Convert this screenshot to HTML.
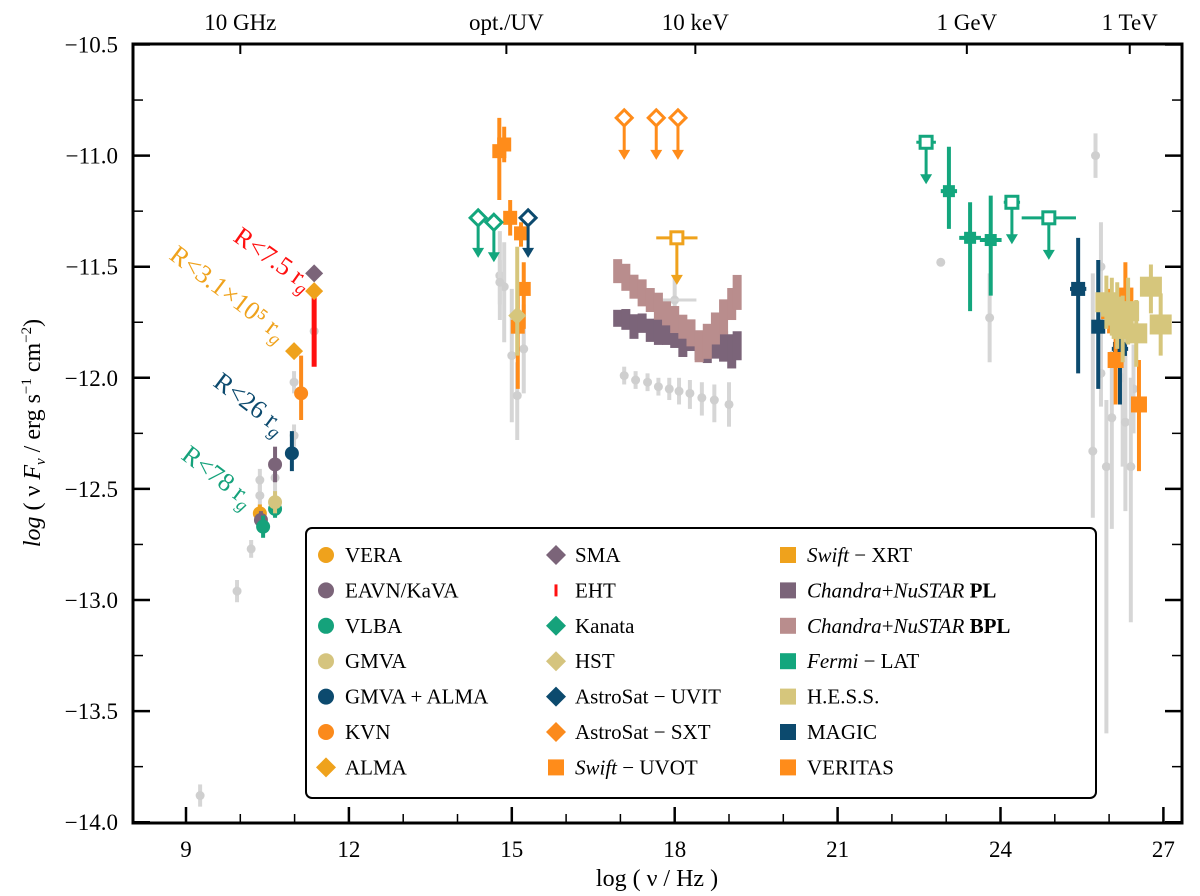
<!DOCTYPE html>
<html><head><meta charset="utf-8"><style>
body{margin:0;background:#fff;}
svg{display:block;font-family:"Liberation Serif",serif;}
</style></head><body>
<svg id="c" width="1200" height="896"></svg>
<script>
const xTicks=[9,12,15,18,21,24,27];
const yTicks=[-10.5,-11.0,-11.5,-12.0,-12.5,-13.0,-13.5,-14.0];
const topLabels=[["10 GHz",10],["opt./UV",14.9],["10 keV",18.38],["1 GeV",23.38],["1 TeV",26.38]];
// series: [x, y, errLo, errHi, xerr]
const vera=[[10.36,-12.61,0.04,0.04,0]];
const eavn=[[10.64,-12.39,0.08,0.08,0],[10.38,-12.64,0.04,0.04,0]];
const vlba=[[10.64,-12.59,0.04,0.04,0],[10.42,-12.67,0.05,0.05,0]];
const gmva=[[10.64,-12.56,0.05,0.05,0]];
const gmvaAlma=[[10.95,-12.34,0.08,0.1,0]];
const kvn=[[11.12,-12.07,0.12,0.17,0]];
const alma=[[11.36,-11.61,0,0,0],[10.99,-11.88,0,0,0]];
const sma=[[11.36,-11.53,0,0,0]];
const eht=[[11.36,-11.63,-11.95]];
const kanata=[[14.38,-11.28],[14.67,-11.30]];
const hst=[[15.1,-11.72,0.18,0.31,0]];
const uvit=[[15.3,-11.28]];
const sxt=[[17.07,-10.83],[17.66,-10.83],[18.06,-10.83]];
const uvot=[[14.77,-10.98,0.22,0.15,0.08],[14.86,-10.95,0.08,0.08,0.08],[14.97,-11.28,0.08,0.08,0.08],[15.17,-11.35,0.06,0.05,0.08],[15.22,-11.6,0.18,0.12,0.08],[15.11,-11.77,0.28,0.16,0.08]];
const xrt=[[18.04,-11.37,0.38,0]];
const plX=[16.95,17.1,17.25,17.4,17.55,17.7,17.85,18.0,18.15,18.3,18.45,18.6,18.75,18.9,19.05,19.15];
const plY=[-11.73,-11.74,-11.75,-11.76,-11.77,-11.78,-11.79,-11.80,-11.81,-11.82,-11.83,-11.84,-11.83,-11.84,-11.84,-11.84];
const bplX=[16.95,17.1,17.25,17.4,17.55,17.7,17.85,18.0,18.15,18.3,18.45,18.6,18.75,18.9,19.05,19.15];
const bplY=[-11.52,-11.55,-11.59,-11.62,-11.65,-11.68,-11.71,-11.74,-11.77,-11.80,-11.84,-11.82,-11.76,-11.71,-11.65,-11.60];
const fermiUL=[[22.63,-10.94,0.18],[24.21,-11.21,0.15],[24.89,-11.28,0.5]];
const fermi=[[23.05,-11.16,0.17,0.2,0.15],[23.44,-11.37,0.33,0.16,0.2],[23.82,-11.38,0.25,0.2,0.2]];
const hess=[[25.95,-11.66,0.12,0.12,0.12],[26.15,-11.72,0.15,0.15,0.12],[26.35,-11.70,0.15,0.15,0.12],[26.5,-11.80,0.15,0.15,0.12],[26.77,-11.59,0.12,0.1,0.12],[26.95,-11.76,0.14,0.14,0.12],[26.25,-11.78,0.15,0.15,0.12],[26.05,-11.68,0.13,0.13,0.1]];
const magic=[[25.43,-11.60,0.38,0.23,0.15],[25.8,-11.77,0.28,0.3,0.12],[26.2,-11.87,0.25,0.12,0.15]];
const veritas=[[26.3,-11.63,0.18,0.15,0.08],[26.12,-11.92,0.2,0.15,0.08],[26.55,-12.12,0.3,0.2,0.08],[26.0,-11.70,0.1,0.1,0.06]];
const grayPts=[[9.26,-13.88,0.05,0.05],[9.94,-12.96,0.05,0.05],[10.2,-12.77,0.04,0.04],[10.36,-12.53,0.05,0.05],[10.36,-12.46,0.05,0.05],[10.64,-12.45,0.1,0.05],[10.99,-12.26,0.05,0.05],[10.99,-12.02,0.05,0.05],[11.36,-11.79,0.05,0.05],[14.78,-11.54,0.2,0.2],[14.86,-11.59,0.25,0.2],[14.78,-11.57,0.1,0.1],[15.0,-11.9,0.3,0.3],[15.1,-12.08,0.2,0.15],[15.22,-11.87,0.2,0.2],[17.07,-11.99,0.04,0.04],[17.28,-12.01,0.04,0.04],[17.5,-12.02,0.04,0.04],[17.7,-12.04,0.04,0.04],[17.9,-12.05,0.05,0.05],[18.08,-12.06,0.06,0.06],[18.28,-12.07,0.07,0.06],[18.5,-12.09,0.08,0.07],[18.73,-12.1,0.1,0.07],[19.0,-12.12,0.1,0.1],[18.0,-11.65,0.1,0.1],[22.9,-11.48,0,0],[23.8,-11.73,0.2,0.2],[25.75,-11.0,0.1,0.1],[25.85,-11.98,0.15,0.3],[25.95,-12.4,1.2,0.3],[26.05,-12.18,0.5,0.3],[26.25,-12.0,0.4,0.3],[26.3,-12.2,0.4,0.4],[26.45,-12.05,0.2,0.2],[26.4,-12.4,0.7,0.4],[25.7,-12.33,0.3,0.8],[25.85,-11.5,0.2,0.2]];

const svg=document.getElementById('c');
const NS='http://www.w3.org/2000/svg';
const L=133,R=1182,T=44,B=823;
const X=v=>186+(v-9)*54.3;
const Y=v=>44.5+(-10.5-v)*222.2;
function el(tag,attrs,parent){const e=document.createElementNS(NS,tag);for(const k in attrs)e.setAttribute(k,attrs[k]);(parent||svg).appendChild(e);return e;}
function txt(s,x,y,attrs,name){const t=el('text',Object.assign({x:x,y:y},attrs));t.textContent=s;


return t;}
const C={vera:'#efa21c',eavn:'#7b6479',vlba:'#15a27b',gmva:'#d5c47e',navy:'#0c4a6e',kvn:'#fb8a1c',alma:'#efa21c',eht:'#ff1010',uvot:'#ff8c1a',xrt:'#efa21c',pl:'#7b6479',bpl:'#b98d8d',fermi:'#13a67d',hess:'#d6c67c',gray:'#d6d6d6'};

const gData=el('g',{});



function errbar(g,x,y,lo,hi,xe,col,w){
  if(lo||hi)el('line',{x1:X(x),x2:X(x),y1:Y(y-lo),y2:Y(y+hi),stroke:col,'stroke-width':w},g);
  if(xe)el('line',{x1:X(x-xe),x2:X(x+xe),y1:Y(y),y2:Y(y),stroke:col,'stroke-width':w},g);
}
function circle(g,p,col,r){errbar(g,p[0],p[1],p[2],p[3],p[4],col,4);el('circle',{cx:X(p[0]),cy:Y(p[1]),r:r,fill:col},g);}
function diamond(g,x,y,col,s,fill){const cx=X(x),cy=Y(y);el('polygon',{points:`${cx},${cy-s} ${cx+s},${cy} ${cx},${cy+s} ${cx-s},${cy}`,fill:fill?col:'#fff',stroke:col,'stroke-width':fill?0:3},g);}
function square(g,x,y,col,s,fill){el('rect',{x:X(x)-s,y:Y(y)-s,width:2*s,height:2*s,fill:fill?col:'#fff',stroke:col,'stroke-width':fill?0:3},g);}
function arrowDown(g,x,y0,len,col){const cx=X(x),cy=Y(y0);el('line',{x1:cx,x2:cx,y1:cy,y2:cy+len-8,stroke:col,'stroke-width':3},g);el('polygon',{points:`${cx-6},${cy+len-10} ${cx+6},${cy+len-10} ${cx},${cy+len}`,fill:col},g);}
function group(name){const g=el('g',{},gData);return g;}

let g=group('archival-points');
grayPts.forEach(p=>{errbar(g,p[0],p[1],p[2],p[3],0,C.gray,4);el('circle',{cx:X(p[0]),cy:Y(p[1]),r:4.5,fill:'#cfcfcf'},g);});
el('line',{x1:X(17.6),x2:X(18.4),y1:Y(-11.65),y2:Y(-11.65),stroke:C.gray,'stroke-width':3},g);

g=group('chandra-nustar-pl-band');
plX.forEach((x,i)=>{el('rect',{x:X(x)-4.5,y:Y(plY[i])-8-(i%2)*3,width:9,height:17+(i%3)*3+i*0.8,fill:C.pl},g);});
g=group('chandra-nustar-bpl-band');
bplX.forEach((x,i)=>{el('rect',{x:X(x)-4.5,y:Y(bplY[i])-12-(i%2)*2,width:9,height:24+(i>9?8:0)+(i%2)*3,fill:C.bpl},g);});

g=group('vera-points');vera.forEach(p=>circle(g,p,C.vera,7));
g=group('eavn-points');eavn.forEach(p=>circle(g,p,C.eavn,7));
g=group('vlba-points');vlba.forEach(p=>circle(g,p,C.vlba,7));
g=group('gmva-points');gmva.forEach(p=>circle(g,p,C.gmva,7));
g=group('gmva-alma-points');gmvaAlma.forEach(p=>circle(g,p,C.navy,7));
g=group('kvn-points');kvn.forEach(p=>circle(g,p,C.kvn,7));
g=group('eht-bar');eht.forEach(p=>el('line',{x1:X(p[0]),x2:X(p[0]),y1:Y(p[1]),y2:Y(p[2]),stroke:C.eht,'stroke-width':5},g));
g=group('sma-points');sma.forEach(p=>diamond(g,p[0],p[1],C.eavn,9,true));
g=group('alma-points');alma.forEach(p=>diamond(g,p[0],p[1],C.alma,9,true));

g=group('swift-uvot-points');uvot.forEach(p=>{errbar(g,p[0],p[1],p[2],p[3],0,C.uvot,4);square(g,p[0],p[1],C.uvot,7,true);});
g=group('hst-points');hst.forEach(p=>{errbar(g,p[0],p[1],p[2],p[3],0,C.hess,4);diamond(g,p[0],p[1],C.hess,9,true);});
g=group('kanata-upper-limits');kanata.forEach(p=>{arrowDown(g,p[0],p[1],40,C.fermi);diamond(g,p[0],p[1],C.fermi,8,false);});
g=group('uvit-upper-limits');uvit.forEach(p=>{arrowDown(g,p[0],p[1],40,C.navy);diamond(g,p[0],p[1],C.navy,8,false);});
g=group('sxt-upper-limits');sxt.forEach(p=>{arrowDown(g,p[0],p[1],42,C.uvot);diamond(g,p[0],p[1],C.uvot,8,false);});
g=group('xrt-upper-limit');xrt.forEach(p=>{errbar(g,p[0],p[1],0,0,p[2],C.xrt,3);arrowDown(g,p[0],p[1],47,C.xrt);square(g,p[0],p[1],C.xrt,6,false);});
g=group('fermi-upper-limits');fermiUL.forEach(p=>{errbar(g,p[0],p[1],0,0,p[2],C.fermi,3);arrowDown(g,p[0],p[1],42,C.fermi);square(g,p[0],p[1],C.fermi,6,false);});
g=group('fermi-points');fermi.forEach(p=>{errbar(g,p[0],p[1],p[2],p[3],p[4],C.fermi,4);square(g,p[0],p[1],C.fermi,6,true);});
g=group('magic-points');magic.forEach(p=>{errbar(g,p[0],p[1],p[2],p[3],p[4],C.navy,4);square(g,p[0],p[1],C.navy,7,true);});
g=group('veritas-points');veritas.forEach(p=>{errbar(g,p[0],p[1],p[2],p[3],p[4],C.uvot,4);square(g,p[0],p[1],C.uvot,8,true);});
g=group('hess-points');hess.forEach(p=>{errbar(g,p[0],p[1],p[2],p[3],0,C.hess,4);el('rect',{x:X(p[0])-11,y:Y(p[1])-10,width:22,height:20,fill:C.hess},g);});

const ann=[["R<7.5 r",'g',232,240,C.eht,35,"annotation-eht"],["R<3.1×10⁵ r",'g',168,258,C.alma,37,"annotation-alma"],["R<26 r",'g',212,385,C.navy,37,"annotation-gmva-alma"],["R<78 r",'g',180,458,C.vlba,37,"annotation-vlba"]];
ann.forEach(a=>{const t=el('text',{x:a[2],y:a[3],fill:a[4],'font-size':26,transform:`rotate(${a[5]} ${a[2]} ${a[3]})`});t.textContent=a[0];


const s=el('tspan',{'font-size':18,'font-style':'italic',dy:6},t);s.textContent=a[1];});

el('rect',{x:L,y:T,width:R-L,height:B-T,fill:'none',stroke:'#000','stroke-width':3});
xTicks.forEach(v=>{el('line',{x1:X(v),x2:X(v),y1:B,y2:B-16,stroke:'#000','stroke-width':2.5});
txt(String(v),X(v),857,{'font-size':23,'text-anchor':'middle'},'x-tick-label');});
for(let v=9;v<=27;v++){if(v%3)el('line',{x1:X(v),x2:X(v),y1:B,y2:B-9,stroke:'#000','stroke-width':1.5});}
yTicks.forEach(v=>{el('line',{x1:L,x2:L+17,y1:Y(v),y2:Y(v),stroke:'#000','stroke-width':2.5});el('line',{x1:R,x2:R-17,y1:Y(v),y2:Y(v),stroke:'#000','stroke-width':2.5});
txt('−'+Math.abs(v).toFixed(1),118,Y(v)+8,{'font-size':23,'text-anchor':'end'},'y-tick-label');});
yTicks.slice(0,-1).forEach(v=>{const m=v-0.25;el('line',{x1:L,x2:L+10,y1:Y(m),y2:Y(m),stroke:'#000','stroke-width':1.5});el('line',{x1:R,x2:R-10,y1:Y(m),y2:Y(m),stroke:'#000','stroke-width':1.5});});
topLabels.forEach(t=>{el('line',{x1:X(t[1]),x2:X(t[1]),y1:T,y2:T+10,stroke:'#000','stroke-width':2});txt(t[0],X(t[1]),30,{'font-size':23,'text-anchor':'middle'},'top-frequency-label');});
txt('log ( ν / Hz )',657,886,{'font-size':24,'text-anchor':'middle'},'x-axis-title');
const yt=txt('',40,433,{'font-size':24,'text-anchor':'middle',transform:'rotate(-90 40 433)'},'y-axis-title');
yt.innerHTML='<tspan font-style="italic">log</tspan> ( ν <tspan font-style="italic">F</tspan><tspan font-size="15" dy="5" font-style="italic">ν</tspan><tspan dy="-5"> / erg s</tspan><tspan font-size="15" dy="-9">−1</tspan><tspan dy="9"> cm</tspan><tspan font-size="15" dy="-9">−2</tspan><tspan dy="9">)</tspan>';

const lg=el('g',{});


el('rect',{x:306,y:528,width:790,height:270,rx:6,fill:'#fff',stroke:'#000','stroke-width':2},lg);
const legItems=[
[[ 'VERA','c',C.vera],['EAVN/KaVA','c',C.eavn],['VLBA','c',C.vlba],['GMVA','c',C.gmva],['GMVA + ALMA','c',C.navy],['KVN','c',C.kvn],['ALMA','d',C.alma]],
[['SMA','d',C.eavn],['EHT','e',C.eht],['Kanata','d',C.vlba],['HST','d',C.gmva],['AstroSat − UVIT','d',C.navy],['AstroSat − SXT','d',C.kvn],['<tspan font-style="italic">Swift</tspan> − UVOT','s',C.uvot]],
[['<tspan font-style="italic">Swift</tspan> − XRT','s',C.xrt],['<tspan font-style="italic">Chandra</tspan>+<tspan font-style="italic">NuSTAR</tspan> <tspan font-weight="bold">PL</tspan>','s',C.pl],['<tspan font-style="italic">Chandra</tspan>+<tspan font-style="italic">NuSTAR</tspan> <tspan font-weight="bold">BPL</tspan>','s',C.bpl],['<tspan font-style="italic">Fermi</tspan> − LAT','s',C.fermi],['H.E.S.S.','s',C.hess],['MAGIC','s',C.navy],['VERITAS','s',C.uvot]]];
const colX=[326,556,788];
legItems.forEach((col,ci)=>col.forEach((it,ri)=>{const x=colX[ci],y=555+ri*35.4;
 const ent=el('g',{},lg);
 
 
 if(it[1]=='c')el('circle',{cx:x,cy:y,r:8,fill:it[2]},ent);
 else if(it[1]=='d')el('polygon',{points:`${x},${y-10} ${x+10},${y} ${x},${y+10} ${x-10},${y}`,fill:it[2]},ent);
 else if(it[1]=='e')el('line',{x1:x,x2:x,y1:y-6,y2:y+6,stroke:it[2],'stroke-width':3},ent);
 else el('rect',{x:x-8,y:y-8,width:16,height:16,fill:it[2]},ent);
 const t=el('text',{x:x+19,y:y+7,'font-size':21},ent);t.innerHTML=it[0];
}));
</script>
</body></html>
